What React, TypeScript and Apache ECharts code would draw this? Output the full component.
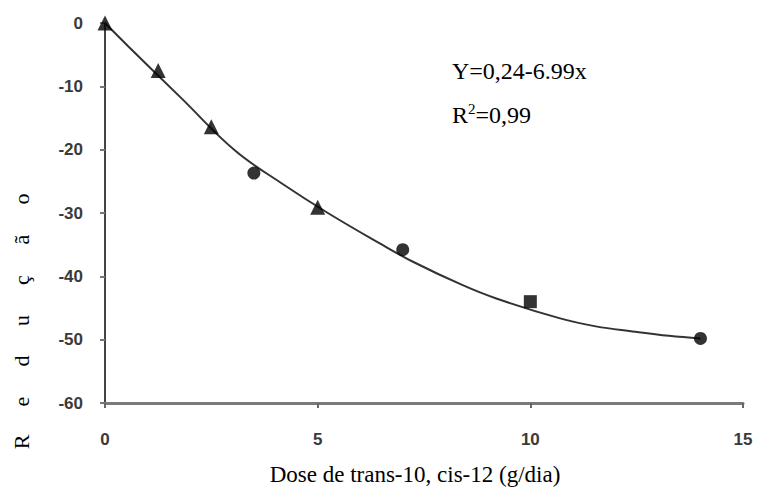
import React, { useEffect, useRef } from "react";
import * as echarts from "echarts";

const triangleX = [0, 1.25, 2.5, 5];
const triangleY = [0, -7.5, -16.4, -29.1];
const circleX = [3.5, 7, 14];
const circleY = [-23.7, -35.8, -49.8];
const squareX = [10];
const squareY = [-44];
const curveX = [0, 0.55, 1.8, 3.05, 4.15, 5.24, 6.46, 7.24, 8.41, 9.2, 10.68, 11.54, 12.4, 13.26, 14];
const curveY = [0, -3.7, -11.9, -20.1, -25.3, -30, -34.8, -37.7, -41.4, -43.5, -46.6, -47.9, -48.7, -49.4, -49.8];
const yNameLetters = ["R", "e", "d", "u", "ç", "ã", "o"];
const xName = "Dose de trans-10, cis-12 (g/dia)";
const equation = "Y=0,24-6.99x";

const zip = (xs: number[], ys: number[]) => xs.map((x, i) => [x, ys[i]]);

export default function App() {
  const ref = useRef<HTMLDivElement>(null);
  useEffect(() => {
    if (!ref.current) return;
    const chart = echarts.init(ref.current, null, { renderer: "svg" });
    const serif = "'Liberation Serif', 'Times New Roman', serif";
    const letterGraphics = yNameLetters.map((l, i) => ({
      type: "text",
      x: 21,
      y: 442 - i * 40.5,
      rotation: Math.PI / 2,
      style: {
        text: l,
        font: `22px ${serif}`,
        fill: "#000",
        align: "center",
        verticalAlign: "middle",
      },
    }));
    chart.setOption({
      animation: false,
      backgroundColor: "#fff",
      grid: { left: 105, top: 23, right: 16, bottom: 85, containLabel: false },
      xAxis: {
        type: "value",
        min: 0,
        max: 15,
        interval: 5,
        axisLine: { show: true, onZero: false, lineStyle: { color: "#7a7a7a", width: 3 } },
        axisTick: { show: true, length: 5, lineStyle: { color: "#666", width: 2 } },
        axisLabel: {
          margin: 28,
          color: "#3a3a3a",
          fontFamily: "Liberation Sans, Arial, sans-serif",
          fontWeight: "bold",
          fontSize: 17,
        },
        splitLine: { show: false },
      },
      yAxis: {
        type: "value",
        min: -60,
        max: 0,
        interval: 10,
        axisLine: { show: true, onZero: false, lineStyle: { color: "#444", width: 2 } },
        axisTick: { show: true, length: 5, lineStyle: { color: "#777", width: 2 } },
        axisLabel: {
          margin: 22,
          color: "#3a3a3a",
          fontFamily: "Liberation Sans, Arial, sans-serif",
          fontWeight: "bold",
          fontSize: 17,
        },
        splitLine: { show: false },
      },
      graphic: [
        ...letterGraphics,
        {
          type: "text",
          x: 415,
          y: 474,
          style: {
            text: xName,
            font: `23px ${serif}`,
            fill: "#000",
            align: "center",
            verticalAlign: "middle",
          },
        },
        {
          type: "text",
          x: 452,
          y: 71,
          style: {
            text: equation,
            font: `24px ${serif}`,
            fill: "#000",
            align: "left",
            verticalAlign: "middle",
          },
        },
        {
          type: "text",
          x: 452,
          y: 114,
          style: {
            text: "{a|R}{s|2}{a|=0,99}",
            fill: "#000",
            align: "left",
            verticalAlign: "middle",
            rich: {
              a: { font: `24px ${serif}`, fill: "#000", verticalAlign: "bottom", lineHeight: 26 },
              s: { font: `15px ${serif}`, fill: "#000", verticalAlign: "top", lineHeight: 26, padding: [0, 0, 10, 0] },
            },
          },
        },
      ],
      series: [
        {
          type: "line",
          data: zip(curveX, curveY),
          smooth: 0.4,
          showSymbol: false,
          lineStyle: { color: "#333", width: 2 },
          z: 1,
        },
        {
          type: "scatter",
          symbol: "triangle",
          symbolSize: 15,
          data: zip(triangleX, triangleY),
          itemStyle: { color: "#000" },
          z: 3,
        },
        {
          type: "scatter",
          symbol: "circle",
          symbolSize: 13,
          data: zip(circleX, circleY),
          itemStyle: { color: "#000" },
          z: 3,
        },
        {
          type: "scatter",
          symbol: "rect",
          symbolSize: 13,
          data: zip(squareX, squareY),
          itemStyle: { color: "#000" },
          z: 3,
        },
      ],
    });
    return () => chart.dispose();
  }, []);
  return (
    <div
      ref={ref}
      style={{ width: 759, height: 488, position: "fixed", left: 0, top: 0 }}
    />
  );
}
